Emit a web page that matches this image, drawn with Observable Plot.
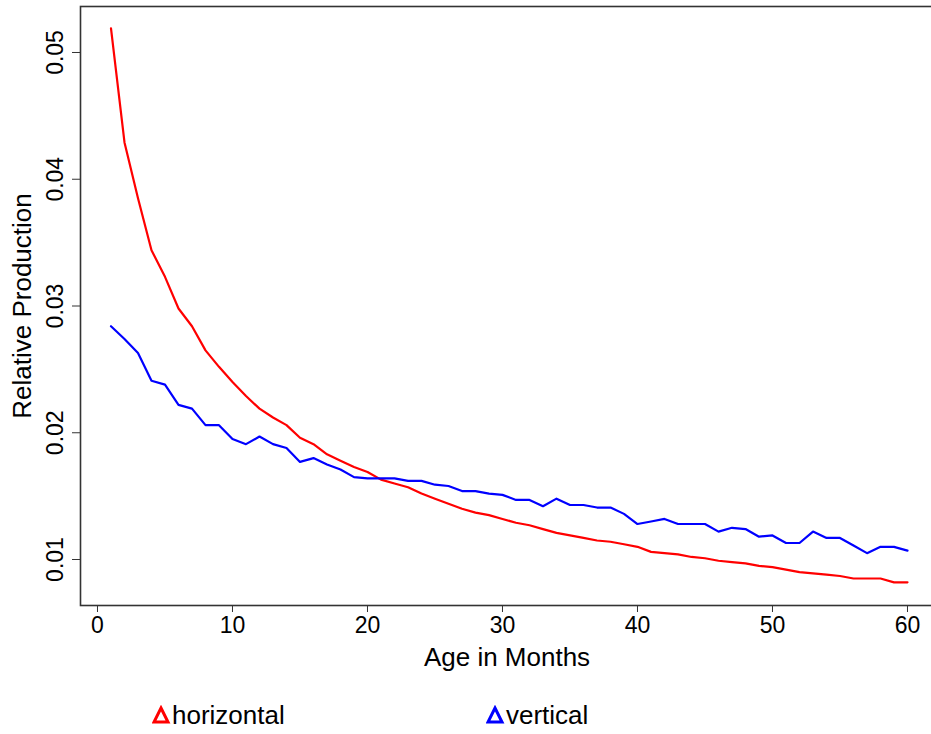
<!DOCTYPE html>
<html><head><meta charset="utf-8">
<script src="https://cdn.jsdelivr.net/npm/d3@7"></script>
<script src="https://cdn.jsdelivr.net/npm/@observablehq/plot@0.6"></script>
<style>
body{margin:0;background:#fff;font-family:"Liberation Sans",Arial,sans-serif;}
#wrap{position:relative;width:931px;height:734px;overflow:hidden;}
.lg{position:absolute;top:701px;height:28px;display:flex;align-items:center;font-size:26px;line-height:28px;color:#000;}
.lg svg{margin-right:1px;}
</style></head><body><div id="wrap"></div>
<script>
const months = [1,2,3,4,5,6,7,8,9,10,11,12,13,14,15,16,17,18,19,20,21,22,23,24,25,26,27,28,29,30,
  31,32,33,34,35,36,37,38,39,40,41,42,43,44,45,46,47,48,49,50,51,52,53,54,55,56,57,58,59,60];
const horizontal = [0.0519,0.0429,0.0385,0.0344,0.0323,0.0298,0.0284,0.0265,0.0252,0.0240,
  0.0229,0.0219,0.0212,0.0206,0.0196,0.0191,0.0183,0.0178,0.0173,0.0169,
  0.0163,0.0160,0.0157,0.0152,0.0148,0.0144,0.0140,0.0137,0.0135,0.0132,
  0.0129,0.0127,0.0124,0.0121,0.0119,0.0117,0.0115,0.0114,0.0112,0.0110,
  0.0106,0.0105,0.0104,0.0102,0.0101,0.0099,0.0098,0.0097,0.0095,0.0094,
  0.0092,0.0090,0.0089,0.0088,0.0087,0.0085,0.0085,0.0085,0.0082,0.0082];
const vertical = [0.0284,0.0274,0.0263,0.0241,0.0238,0.0222,0.0219,0.0206,0.0206,0.0195,
  0.0191,0.0197,0.0191,0.0188,0.0177,0.0180,0.0175,0.0171,0.0165,0.0164,
  0.0164,0.0164,0.0162,0.0162,0.0159,0.0158,0.0154,0.0154,0.0152,0.0151,
  0.0147,0.0147,0.0142,0.0148,0.0143,0.0143,0.0141,0.0141,0.0136,0.0128,
  0.0130,0.0132,0.0128,0.0128,0.0128,0.0122,0.0125,0.0124,0.0118,0.0119,
  0.0113,0.0113,0.0122,0.0117,0.0117,0.0111,0.0105,0.0110,0.0110,0.0107];
const seriesNames = ["horizontal", "vertical"];
const seriesColors = ["#ff0000", "#0000ff"];
const xTicks = [0,10,20,30,40,50,60];
const yTicks = [0.01,0.02,0.03,0.04,0.05];
const xLabel = "Age in Months";
const yLabel = "Relative Production";

const rows = [];
months.forEach((m,i)=>{
  rows.push({month:m, value:horizontal[i], series:seriesNames[0]});
  rows.push({month:m, value:vertical[i], series:seriesNames[1]});
});

const chart = Plot.plot({
  width: 931, height: 680,
  marginLeft: 80, marginRight: -2, marginTop: 6, marginBottom: 75,
  style: {fontFamily: '"Liberation Sans", Arial, sans-serif', color: "#000", background: "#fff"},
  x: {domain: [-1.259, 61.926]},
  y: {domain: [0.006371, 0.053629]},
  color: {domain: seriesNames, range: seriesColors},
  marks: [
    Plot.frame({stroke: "#333", strokeWidth: 1.6}),
    Plot.axisX({ticks: xTicks, tickSize: 7, tickPadding: 4, fontSize: 23, label: null, stroke: "#333"}),
    Plot.axisY({ticks: yTicks, tickSize: 8, tickPadding: 10, tickRotate: -90, fontSize: 23, label: null,
      tickFormat: d => d.toFixed(2), stroke: "#333"}),
    Plot.text([xLabel], {frameAnchor: "bottom", dy: 52, fontSize: 26, fill: "#000", textAnchor: "middle", lineAnchor: "middle"}),
    Plot.text([yLabel], {frameAnchor: "left", dx: -58, rotate: -90, fontSize: 26, fill: "#000", textAnchor: "middle", lineAnchor: "middle"}),
    Plot.line(rows, {x: "month", y: "value", z: "series", stroke: "series", strokeWidth: 2.2})
  ]
});
const wrap = document.getElementById("wrap");
wrap.appendChild(chart);

const legendLeft = [152, 486];
seriesNames.forEach((name, i) => {
  const d = document.createElement("div");
  d.className = "lg";
  d.style.left = legendLeft[i] + "px";
  d.innerHTML = `<svg width="19" height="20" viewBox="0 0 19 20"><path d="M9 3 L16 17 L2 17 Z" fill="none" stroke="${seriesColors[i]}" stroke-width="3" stroke-linejoin="miter"/></svg><span>${name}</span>`;
  wrap.appendChild(d);
});
</script></body></html>
